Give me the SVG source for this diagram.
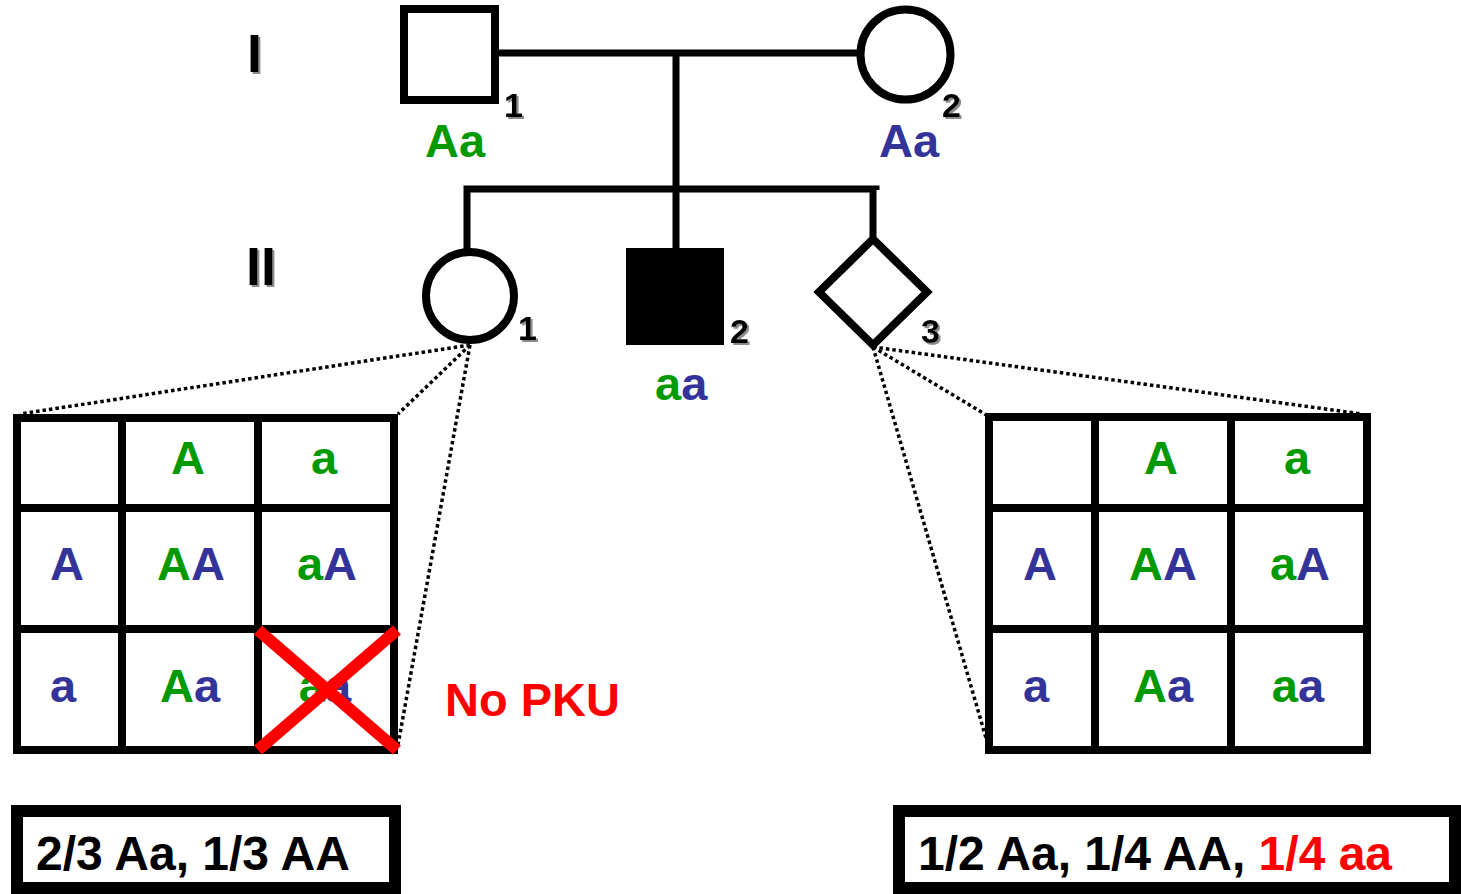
<svg xmlns="http://www.w3.org/2000/svg" width="1461" height="894" viewBox="0 0 1461 894">
  <defs>
    <filter id="shadow" x="-30%" y="-30%" width="160%" height="160%">
      <feDropShadow dx="2" dy="2" stdDeviation="0.6" flood-color="#8c8c8c" flood-opacity="1"/>
    </filter>
  </defs>
  <style>
    text { font-family: "Liberation Sans", Arial, sans-serif; font-weight: bold; }
    .gen { font-size: 54px; fill: #000; }
    .num { font-size: 34px; fill: #000; }
    .geno { font-size: 47px; }
    .sum { font-size: 48px; }
    .cell { font-size: 47px; text-anchor: middle; }
    .g { fill: #009900; }
    .b { fill: #333399; }
    .r { fill: #ff0000; }
    .k { fill: #000; }
    .sym { fill: #fff; stroke: #000; stroke-width: 8; }
    .line { fill: none; stroke: #000; stroke-width: 7; }
    .dot { fill: none; stroke: #000; stroke-width: 3.5; stroke-dasharray: 3.5 3; }
    .grid { fill: none; stroke: #000; stroke-width: 8; }
    .box { fill: #fff; stroke: #000; stroke-width: 12; }
  </style>
  <rect width="1461" height="894" fill="#fff"/>

  <!-- generation labels -->
  <g id="gen-labels" filter="url(#shadow)">
    <text class="gen" x="247" y="72">I</text>
    <text class="gen" x="246" y="285">II</text>
  </g>

  <!-- pedigree lines -->
  <g id="connectors">
    <line class="line" x1="499" y1="53" x2="858" y2="53"/>
    <line class="line" x1="676" y1="53" x2="676" y2="190"/>
    <polyline class="line" points="467,250 467,189 876,189 876,190"/>
    <line class="line" x1="873" y1="189" x2="873" y2="237"/>
    <line class="line" x1="676" y1="189" x2="676" y2="250"/>
    <!-- dotted projections to the Punnett squares -->
    <line class="dot" x1="470" y1="345" x2="20" y2="414"/>
    <line class="dot" x1="470" y1="345" x2="398" y2="414"/>
    <line class="dot" x1="470" y1="345" x2="398" y2="745"/>
    <line class="dot" x1="873" y1="347" x2="988" y2="416"/>
    <line class="dot" x1="873" y1="347" x2="1362" y2="414"/>
    <line class="dot" x1="873" y1="347" x2="988" y2="745"/>
  </g>

  <!-- generation I -->
  <g id="I-1">
    <rect class="sym" x="404" y="9" width="91" height="91"/>
    <text class="num" x="504" y="117" filter="url(#shadow)">1</text>
    <text class="geno g" x="425" y="157">Aa</text>
  </g>
  <g id="I-2">
    <circle class="sym" cx="905.5" cy="54.5" r="45"/>
    <text class="num" x="942" y="117" filter="url(#shadow)">2</text>
    <text class="geno b" x="879" y="157">Aa</text>
  </g>

  <!-- generation II -->
  <g id="II-1">
    <circle class="sym" cx="470" cy="296" r="44"/>
    <text class="num" x="518" y="340" filter="url(#shadow)">1</text>
  </g>
  <g id="II-2">
    <rect x="626" y="248" width="98" height="97" fill="#000"/>
    <text class="num" x="730" y="343" filter="url(#shadow)">2</text>
    <text class="geno" x="655" y="400"><tspan class="g">a</tspan><tspan class="b">a</tspan></text>
  </g>
  <g id="II-3">
    <polygon class="sym" points="873,239 927,292 873,345 819,292"/>
    <text class="num" x="921" y="343" filter="url(#shadow)">3</text>
  </g>

  <!-- Punnett square for II-1 -->
  <g id="punnett-left">
    <rect x="17" y="418" width="377" height="332" fill="#fff"/>
    <path class="grid" d="M17,418 H394 V750 H17 Z M122,418 V750 M258,418 V750 M17,508 H394 M17,629 H394"/>
    <text class="cell g" x="188" y="474">A</text>
    <text class="cell g" x="324" y="474">a</text>
    <text class="cell b" x="67" y="580">A</text>
    <text class="cell" x="191" y="580"><tspan class="g">A</tspan><tspan class="b">A</tspan></text>
    <text class="cell" x="327" y="580"><tspan class="g">a</tspan><tspan class="b">A</tspan></text>
    <text class="cell b" x="63" y="702">a</text>
    <text class="cell" x="190" y="702"><tspan class="g">A</tspan><tspan class="b">a</tspan></text>
    <text class="cell" x="325" y="702"><tspan class="g">a</tspan><tspan class="b">a</tspan></text>
    <g id="cross" stroke="#ff0000" stroke-width="12">
      <line x1="258" y1="630" x2="397" y2="750"/>
      <line x1="397" y1="630" x2="258" y2="750"/>
    </g>
  </g>
  <g id="no-pku">
    <text class="geno r" x="445" y="716">No PKU</text>
  </g>

  <!-- Punnett square for II-3 -->
  <g id="punnett-right">
    <rect x="989" y="417" width="378" height="333" fill="#fff"/>
    <path class="grid" d="M989,417 H1367 V750 H989 Z M1095,417 V750 M1231,417 V750 M989,508 H1367 M989,629 H1367"/>
    <text class="cell g" x="1161" y="474">A</text>
    <text class="cell g" x="1297" y="474">a</text>
    <text class="cell b" x="1040" y="580">A</text>
    <text class="cell" x="1163" y="580"><tspan class="g">A</tspan><tspan class="b">A</tspan></text>
    <text class="cell" x="1300" y="580"><tspan class="g">a</tspan><tspan class="b">A</tspan></text>
    <text class="cell b" x="1036" y="702">a</text>
    <text class="cell" x="1163" y="702"><tspan class="g">A</tspan><tspan class="b">a</tspan></text>
    <text class="cell" x="1298" y="702"><tspan class="g">a</tspan><tspan class="b">a</tspan></text>
  </g>

  <!-- outcome summaries -->
  <g id="summary-left">
    <rect class="box" x="17" y="811" width="378" height="77"/>
    <text class="sum k" x="36" y="870">2/3 Aa, 1/3 AA</text>
  </g>
  <g id="summary-right">
    <rect class="box" x="899" y="811" width="556" height="77"/>
    <text class="sum k" x="918" y="870">1/2 Aa, 1/4 AA, <tspan class="r">1/4 aa</tspan></text>
  </g>
</svg>
